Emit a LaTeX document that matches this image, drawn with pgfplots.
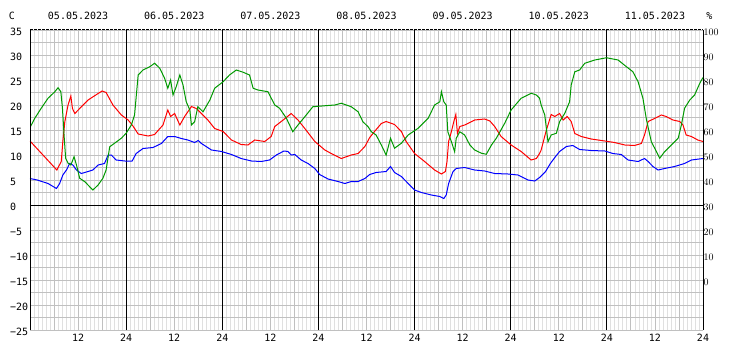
\documentclass[border=0pt]{standalone}
\usepackage{fontspec}
\setmainfont{DejaVu Sans Mono}
\usepackage{pgfplots}
\pgfplotsset{compat=1.18}
\definecolor{majg}{RGB}{192,192,192}
\definecolor{ming}{RGB}{224,224,224}
\definecolor{grn}{RGB}{0,153,0}
\newcommand{\lblfont}{\fontsize{10bp}{12bp}\selectfont}
\begin{document}
\begin{tikzpicture}
\useasboundingbox (-30bp,-30bp) rectangle (702bp,330bp);
\pgfplotsset{
  base/.style={
    scale only axis, width=673bp, height=300bp,
    at={(0,0)}, anchor=south west,
    xmin=0, xmax=168,
    axis line style={draw=none},
    major tick length=0pt, minor tick length=0pt,
    tick label style={font=\lblfont, inner sep=0pt},
    clip=true,
  }
}
\begin{axis}[base,
  ymin=-25, ymax=35,
  xtick={0,6,...,168},
  xticklabels={{},{},12,{},{},{},12,{},{},{},12,{},{},{},12,{},{},{},12,{},{},{},12,{},{},{},12,{},{}},
  minor x tick num=5,
  xmajorgrids, xminorgrids,
  major x grid style={majg, line width=0.8bp},
  minor x grid style={ming, line width=0.8bp},
  ytick={-25,-20,...,35},
  yticklabels={−25,−20,−15,−10,−5,0,5,10,15,20,25,30,35},
  minor y tick num=1,
  ymajorgrids, yminorgrids,
  major y grid style={majg, line width=0.8bp},
  minor y grid style={majg, line width=0.8bp},
  xticklabel style={anchor=north, yshift=-3.5bp},
  yticklabel style={anchor=west, xshift=-20bp, yshift=-2bp},
  extra x ticks={24,48,...,168},
  extra x tick labels={24,24,24,24,24,24,24},
  extra x tick style={grid=major, major x grid style={black, line width=1bp}},
  extra y ticks={0},
  extra y tick labels={},
  extra y tick style={grid=major, major y grid style={black, line width=1bp}},
]
\addplot[red, line width=1bp] table {
0 12.8
6.7 7.0
7.8 8.7
8.2 12.7
8.7 16.7
9.5 20
10.2 21.8
10.6 19.3
11.2 18.3
12.4 19.3
14.5 21
17.0 22.3
18.0 22.8
19.0 22.5
20.7 20
22.8 18
24.5 17
25.7 15.8
27.0 14.2
29.5 13.8
31.1 14.1
33.2 16
34.4 19
35.1 17.7
36.1 18.3
37.4 16
38.6 17.7
40.3 19.7
41.5 19.3
41.9 19
44.4 17
46.1 15.3
48.2 14.7
50.3 13
52.7 12.1
54.4 12
56.1 13
58.6 12.7
60.2 13.7
61.1 15.7
63.2 17
65.2 18.3
66.9 17
68.6 15.3
71.1 12.7
73.6 11
75.2 10.3
77.7 9.3
80.2 10
81.9 10.3
83.6 11.7
84.8 13.5
86.0 14.7
87.7 16.3
88.9 16.7
91.0 16.1
92.7 14.7
93.9 12.7
96.0 10.3
98.5 8.7
101.0 7
102.7 6.2
103.7 6.7
104.1 8.7
104.5 12.7
105.2 14.7
105.8 16.7
106.3 18.1
106.7 14.3
107.3 15.7
108.5 16
111.0 17
113.5 17.2
114.8 16.8
116.0 15.7
117.6 13.7
120.1 12
122.6 10.7
125.1 9
126.4 9.3
127.2 10.3
127.6 11
128.9 15
129.3 16
130.1 18.1
131.0 17.7
132.2 18.3
133.1 17
134.1 17.7
135.1 16.7
136.0 14.3
137.6 13.7
140.1 13.2
143.5 12.8
145.9 12.5
148.5 12
150.9 11.9
152.6 12.3
153.4 14
154.3 16.7
155.9 17.3
157.6 18
158.8 17.7
160.5 17
162.2 16.7
163.0 16
163.8 14
165.1 13.7
166.7 13
168 12.7
};
\addplot[blue, line width=1bp] table {
0 5.3
1.8 5.0
4.5 4.3
6.6 3.3
7.4 4.3
8.2 6
9.1 7
9.9 8.3
10.7 8
11.6 7
12.8 6.3
14.5 6.7
15.7 7
17.0 8
18.6 8.3
19.5 10
20.3 10
21.5 9
23.7 8.8
25.5 8.8
26.5 10.3
28.2 11.3
30.7 11.5
32.8 12.3
34.4 13.7
36.1 13.7
37.8 13.3
39.4 13
41.1 12.5
42.0 12.9
42.8 12.3
45.3 11
47.8 10.7
50.3 10.1
52.7 9.3
55.3 8.8
57.7 8.7
59.8 9
61.5 10
63.4 10.8
64.4 10.7
65.2 10
66.1 10.1
67.7 9
69.4 8.3
71.1 7.3
72.3 6.1
74.4 5.2
76.9 4.7
78.6 4.3
80.2 4.7
81.9 4.7
83.6 5.3
84.8 6.1
86.4 6.5
88.9 6.7
90.0 7.7
91.0 6.5
92.7 5.7
94.4 4.3
96.0 3
97.7 2.5
100.2 2
102.3 1.7
103.3 1.3
103.9 2
104.5 4.3
105.6 6.7
106.4 7.3
108.5 7.5
111.0 7
113.5 6.8
116.0 6.3
119.3 6.2
121.8 6
124.3 5
126.0 4.8
127.2 5.5
128.7 6.7
129.9 8.3
131.2 9.7
132.2 10.7
133.9 11.7
135.5 11.9
137.2 11.1
140.1 10.9
143.5 10.8
145.5 10.3
147.6 10.1
149.3 9
151.8 8.7
153.4 9.3
154.3 8.7
155.5 7.7
156.8 7
158.4 7.3
160.9 7.7
163.4 8.3
165.1 9
168 9.3
};
\end{axis}
\begin{axis}[base,
  ymin=-20, ymax=100,
  axis y line*=right, axis x line*=top,
  ytick={0,10,...,100},
  xtick={12,36,...,156},
  xticklabels={05.05.2023,06.05.2023,07.05.2023,08.05.2023,09.05.2023,10.05.2023,11.05.2023},
  xticklabel style={anchor=south, yshift=10bp},
  yticklabel style={anchor=west, xshift=0.5bp, yshift=-2bp},
]
\addplot[grn, line width=1bp] table {
0 61
1.2 64.7
2.8 68.7
4.5 72.7
6.2 75.3
7.0 76.9
7.7 75.3
8.1 68.7
8.5 58
8.9 48.7
9.5 46.7
10.2 46
11.0 49.3
11.6 46
12.4 40.7
13.7 39.3
14.9 37.3
15.7 36
17.0 38
18.2 40.7
19.0 44
19.9 53.3
21.1 54.7
22.8 56.7
24.0 58.7
25.3 62
26.1 66
27.0 82
28.2 84
29.9 85.3
31.1 86.7
32.4 84.7
33.6 80.7
34.4 76.7
35.1 80
35.7 74
36.5 77.3
37.4 82
38.2 78
39.0 71.3
39.9 68
40.3 62
41.1 63.3
41.9 69.3
43.2 67.3
44.9 72
46.1 76.7
48.2 79.3
49.8 82
51.5 84
53.2 83.1
54.8 82
55.7 76.7
56.9 76
59.4 75.3
61.1 70
62.3 68.7
64.0 64.7
65.6 59.3
66.9 62
68.6 65.3
70.6 69.3
73.6 69.7
76.1 70
77.7 70.7
80.2 69.3
81.9 67.3
83.1 63.3
84.4 61.3
85.2 59.3
86.4 58
87.7 54
88.9 50
90.0 56.7
91.0 52.7
92.7 54.7
94.4 58
96.9 60.7
99.4 64.7
101.0 70
102.3 71.3
102.7 75.3
103.3 71.3
103.9 70
104.3 59.3
105.2 55.3
106.0 51.3
106.4 56.7
107.3 59.3
108.5 58
109.8 54
111.0 52
112.7 50.7
113.9 50.3
115.2 54
116.4 56.7
118.5 62.7
120.1 68
122.6 72.7
125.1 74.7
126.4 74
127.2 72.7
127.6 70
128.5 66
129.3 55.3
130.1 58
131.4 58.7
132.2 63.3
133.5 66.7
134.7 71.3
135.1 78
136.0 83.3
137.2 84
138.5 86.7
141.0 88
143.9 88.9
146.8 88
148.9 85.3
150.5 83.3
151.8 79.3
153.0 72.7
153.9 64
155.1 55.3
156.4 51.3
157.2 48.7
158.4 51.3
160.1 54
161.8 56.7
162.6 62
163.4 68.7
164.7 72
165.9 74
167.2 78.7
168 81
};
\draw[black, line width=1bp] (rel axis cs:0,0) -- (rel axis cs:0,1);
\draw[black, line width=1bp] (rel axis cs:1,0) -- (rel axis cs:1,1);
\draw[black, line width=1bp, dash pattern=on 3bp off 1bp] (rel axis cs:0,1) -- (rel axis cs:1,1);
\draw[black, line width=1bp, dash pattern=on 3bp off 1bp] (rel axis cs:0,0) -- (rel axis cs:1,0);
\end{axis}
\node[font=\lblfont, inner sep=0pt] at (-18bp,314bp) {C};
\node[font=\lblfont, inner sep=0pt] at (679.5bp,314bp) {\%};
\end{tikzpicture}
\end{document}
